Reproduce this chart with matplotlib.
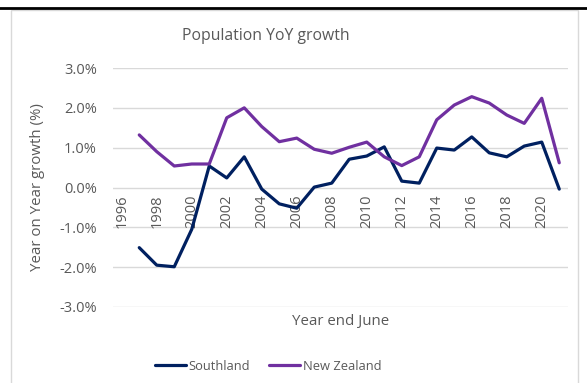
import matplotlib
matplotlib.use("Agg")
import matplotlib.pyplot as plt
from matplotlib.lines import Line2D
from matplotlib.patches import Rectangle

plt.rcParams['font.family'] = ['Open Sans', 'DejaVu Sans']

# Year-ending-June population growth (%)
years = list(range(1997, 2022))
southland = [-1.51, -1.95, -1.99, -1.05, 0.54, 0.24, 0.77, -0.04, -0.41, -0.52,
             0.01, 0.11, 0.71, 0.79, 1.02, 0.16, 0.11, 0.99, 0.94, 1.27,
             0.87, 0.77, 1.04, 1.14, -0.04]
new_zealand = [1.32, 0.90, 0.54, 0.59, 0.59, 1.75, 2.00, 1.53, 1.15, 1.24,
               0.96, 0.86, 1.01, 1.14, 0.77, 0.55, 0.77, 1.70, 2.07, 2.28,
               2.12, 1.82, 1.61, 2.24, 0.62]
tick_years = list(range(1996, 2021, 2))
y_ticks = [-3, -2, -1, 0, 1, 2, 3]

NAVY = '#002060'
PURPLE = '#7030A0'
TEXT = '#595959'
GRID = '#D9D9D9'

W, H = 587, 383
fig = plt.figure(figsize=(W / 100, H / 100), dpi=100)

# outer page rule and chart border
fig.add_artist(Line2D([0, 1], [1 - 8 / H, 1 - 8 / H], color='black', lw=2,
                      transform=fig.transFigure))
fig.add_artist(Rectangle((11 / W, -0.05), (578 - 11) / W, 1.05 - 10 / H,
                         transform=fig.transFigure, fill=False,
                         edgecolor=GRID, lw=1))

ax = fig.add_axes([113 / W, 1 - 307 / H, (568 - 113) / W, (307 - 68) / H])
ax.set_xlim(1995.5, 2021.5)
ax.set_ylim(-3, 3)

for v in y_ticks:
    ax.axhline(v, color=GRID, lw=1, zorder=0)

ax.plot(years, southland, color=NAVY, lw=2.3, solid_joinstyle='round',
        solid_capstyle='round', label='Southland', zorder=3)
ax.plot(years, new_zealand, color=PURPLE, lw=2.3, solid_joinstyle='round',
        solid_capstyle='round', label='New Zealand', zorder=3)

for s in ['top', 'right', 'left']:
    ax.spines[s].set_visible(False)
ax.spines['bottom'].set_position(('data', 0))
ax.spines['bottom'].set_visible(False)

ax.set_yticks(y_ticks)
ax.set_yticklabels([f'{v:.1f}%' for v in y_ticks], color=TEXT, fontsize=10.5)
ax.set_xticks(tick_years)
ax.set_xticklabels([str(y) for y in tick_years], rotation=90, color=TEXT,
                   fontsize=10.5)
ax.tick_params(axis='both', length=0)
ax.tick_params(axis='y', pad=11.5)
ax.tick_params(axis='x', pad=5)

fig.text(266 / W, 1 - 36 / H, 'Population YoY growth', ha='center',
         va='center', color=TEXT, fontsize=11.3)
fig.text(38 / W, 1 - 187 / H, 'Year on Year growth (%)', rotation=90,
         ha='center', va='center', color=TEXT, fontsize=10.8)
fig.text(341 / W, 1 - 321 / H, 'Year end June', ha='center', va='center',
         color=TEXT, fontsize=10.8)

leg = fig.legend(loc='center', bbox_to_anchor=(268 / W, 1 - 366 / H),
                 ncol=2, frameon=False, fontsize=9.3, handlelength=2.4,
                 handletextpad=0.25, columnspacing=1.4, labelcolor=TEXT)

fig.savefig('out.png', dpi=100)
